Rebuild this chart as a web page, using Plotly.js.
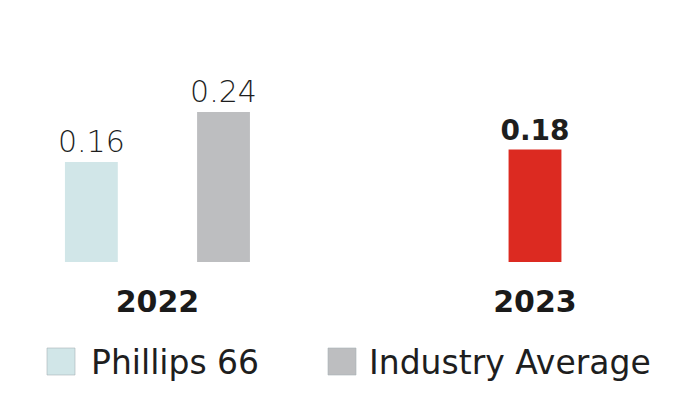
<!DOCTYPE html>
<html>
<head>
<meta charset="utf-8">
<script src="https://cdn.plot.ly/plotly-3.0.1.min.js"></script>
<style>html,body{margin:0;padding:0;background:#fff}#chart{width:683px;height:396px}</style>
</head>
<body>
<div id="chart"></div>
<script>
var years = ["2022", "2023"];
var seriesNames = ["Phillips 66", "Industry Average"];
var phillipsValues = [0.16, 0.18];
var industryValues = [0.24, null];
var phillipsColors = ["#d1e6e8", "#dc2a21"];
var industryColor = "#bdbec0";
var legendColors = ["#d1e6e8", "#bdbec0"];

var W = 683, H = 396;
function px(x) { return x / W; }
function py(y) { return 1 - y / H; }

var traces = [
  {
    type: "bar", name: seriesNames[0], x: years, y: phillipsValues,
    width: 0.14, offset: [-0.245, -0.07],
    marker: { color: phillipsColors, line: { width: 0 } },
    text: phillipsValues.map(function (v) { return v.toFixed(2); }),
    textposition: "outside", constraintext: "none", cliponaxis: false,
    textfont: { family: "DejaVu Sans", size: [30, 28], weight: [200, 700], color: "#1e1e1e" },
    hoverinfo: "none"
  },
  {
    type: "bar", name: seriesNames[1], x: years, y: industryValues,
    width: 0.14, offset: [0.105, 0.105],
    marker: { color: industryColor, line: { width: 0 } },
    text: industryValues.map(function (v) { return v == null ? "" : v.toFixed(2); }),
    textposition: "outside", constraintext: "none", cliponaxis: false,
    textfont: { family: "DejaVu Sans", size: 30, weight: 200, color: "#1e1e1e" },
    hoverinfo: "none"
  }
];

var shapes = [], annotations = [];
var swX = [47, 328], txtX = [89, 367];
for (var i = 0; i < seriesNames.length; i++) {
  shapes.push({ type: "rect", xref: "paper", yref: "paper",
    x0: px(swX[i]), x1: px(swX[i] + 28), y0: py(375), y1: py(348),
    fillcolor: legendColors[i], line: { color: "#a9b4b6", width: 0.6 } });
  annotations.push({ xref: "paper", yref: "paper", x: px(txtX[i]), y: py(362),
    xanchor: "left", yanchor: "middle", showarrow: false, text: seriesNames[i],
    font: { family: "DejaVu Sans", size: 33, weight: 400, color: "#1e1e1e" } });
}

var layout = {
  width: W, height: H,
  margin: { l: 0, r: 0, t: 0, b: 0, pad: 0 },
  paper_bgcolor: "#fff", plot_bgcolor: "#fff",
  showlegend: false, barmode: "overlay",
  xaxis: { type: "category", range: [-0.417, 1.392], showgrid: false, zeroline: false,
    showline: false, ticks: "", ticklabelstandoff: 19,
    tickfont: { family: "DejaVu Sans", size: 30, weight: 700, color: "#1a1a1a" },
    fixedrange: true },
  yaxis: { domain: [134 / H, 1], range: [0, 0.4192], showgrid: false, zeroline: false,
    showline: false, showticklabels: false, fixedrange: true },
  shapes: shapes, annotations: annotations
};

Plotly.newPlot("chart", traces, layout, { displayModeBar: false, staticPlot: true });
</script>
</body>
</html>
